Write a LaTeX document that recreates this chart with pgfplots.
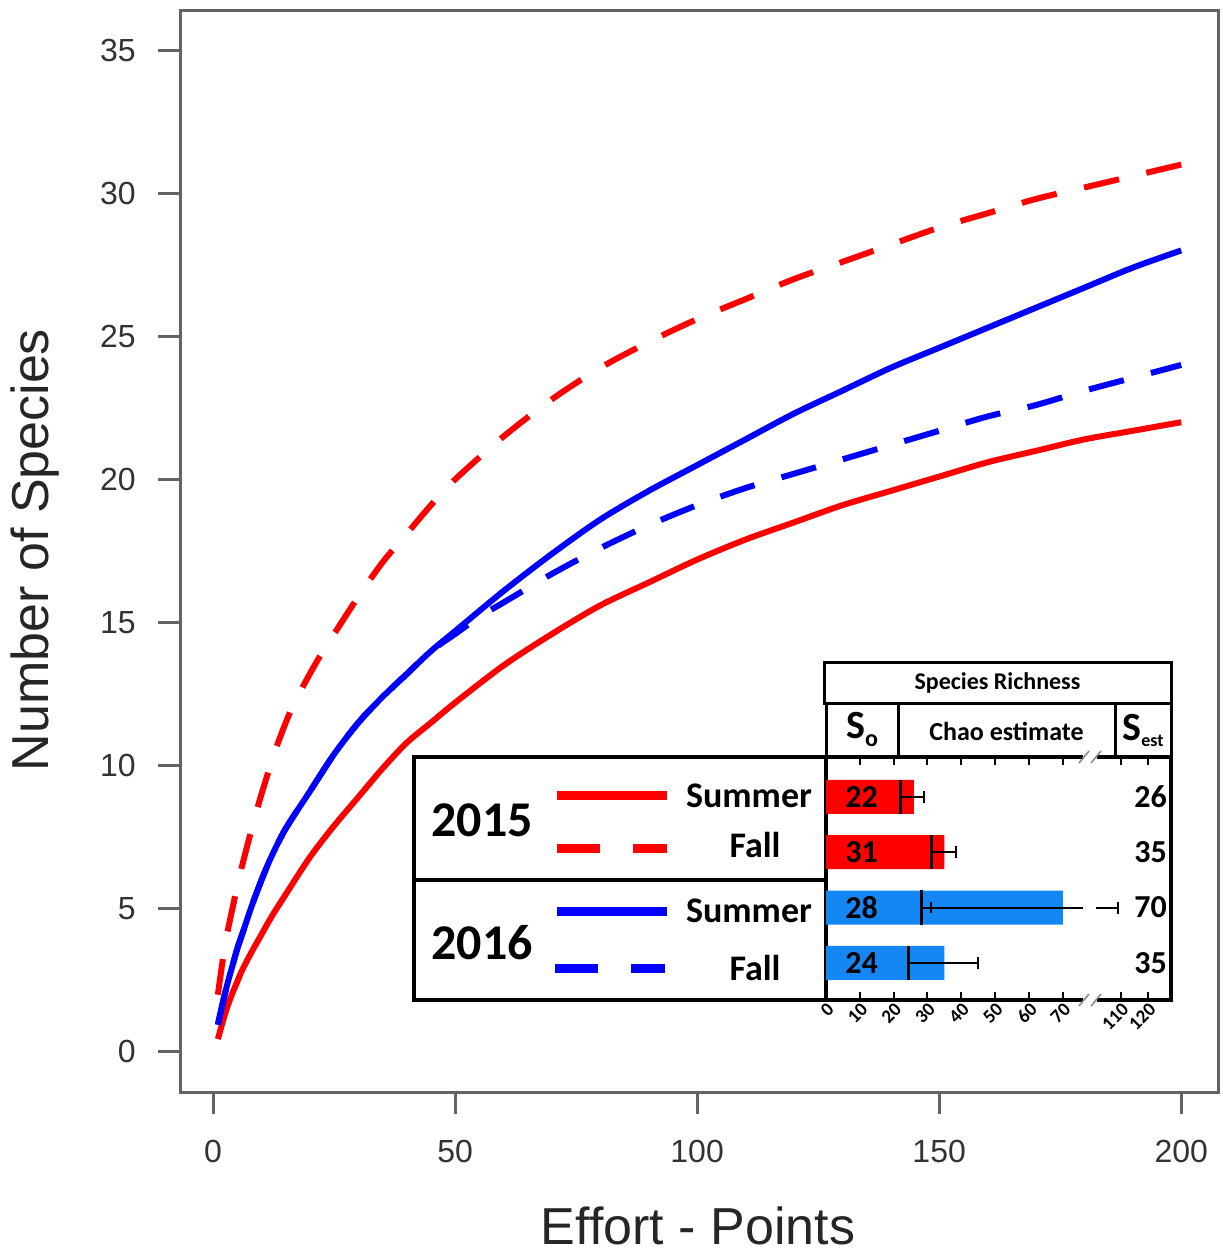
\documentclass[border=0pt]{standalone}
\usepackage{pgfplots}
\pgfplotsset{compat=1.18}
\usepackage{fontspec}
\setmainfont{Liberation Sans}
\newfontfamily\carl{Carlito}
\usetikzlibrary{arrows.meta}
\definecolor{cred}{RGB}{255,0,0}
\definecolor{cblue}{RGB}{0,0,255}
\definecolor{bblue}{RGB}{20,135,245}
\definecolor{axgray}{RGB}{100,100,100}
\begin{document}
\begin{tikzpicture}
\useasboundingbox (0,0) rectangle (611pt,-626.5pt);
\begin{axis}[
  at={(90pt,-546pt)}, anchor=south west,
  scale only axis, width=519pt, height=541pt,
  xmin=-6.82, xmax=207.6, ymin=-1.4, ymax=36.4,
  xtick={0,50,100,150,200}, ytick={0,5,...,35},
  axis line style={axgray, line width=1.5pt},
  tick style={axgray, line width=1.5pt},
  tick align=outside, major tick length=11pt,
  xtick pos=bottom, ytick pos=left,
  /pgf/number format/assume math mode=true,
  ticklabel style={font=\fontsize{16}{16}\selectfont, text=black!80},
  yticklabel style={inner sep=0pt, xshift=-11pt},
  xticklabel style={inner sep=0pt, yshift=-13pt},
]
\addplot[cred, line width=3pt, smooth, tension=0.5] coordinates {
(1,0.45) (2,1.05) (3,1.6) (4,2.05) (5,2.45) (6,2.85) (8,3.5) (10,4.1) (12,4.7) (15,5.5) (20,6.8) (25,7.9) (30,8.9) (35,9.9) (40,10.8) (45,11.5) (50,12.2) (60,13.5) (70,14.6) (80,15.6) (90,16.4) (100,17.2) (110,17.9) (120,18.5) (130,19.1) (140,19.6) (150,20.1) (160,20.6) (170,21.0) (180,21.4) (190,21.7) (200,22.0)};
\addplot[cred, line width=3pt, smooth, tension=0.5, dash pattern=on 18pt off 14pt] coordinates {
(1,2.0) (2,3.2) (3,4.2) (4,5.0) (5,5.8) (6,6.5) (8,7.8) (10,9.0) (13,10.6) (16,11.9) (19,12.9) (22,13.8) (25,14.6) (30,15.9) (35,17.1) (40,18.1) (45,19.1) (50,20.0) (60,21.5) (70,22.8) (80,23.9) (90,24.8) (100,25.6) (110,26.3) (120,27.0) (130,27.6) (140,28.2) (150,28.8) (160,29.3) (170,29.8) (180,30.2) (190,30.6) (200,31.0)};
\addplot[cblue, line width=3pt, smooth, tension=0.5] coordinates {
(1,0.95) (2,1.7) (3,2.4) (4,3.0) (5,3.6) (6,4.1) (8,5.1) (10,6.0) (12,6.8) (15,7.8) (20,9.1) (25,10.4) (30,11.5) (35,12.4) (40,13.2) (45,14.0) (50,14.7) (60,16.1) (70,17.4) (80,18.6) (90,19.6) (100,20.5) (110,21.4) (120,22.3) (130,23.1) (140,23.9) (150,24.6) (160,25.3) (170,26.0) (180,26.7) (190,27.4) (200,28.0)};
\addplot[cblue, line width=3pt, smooth, tension=0.5, dash pattern=on 18pt off 14pt] coordinates {
(1,0.95) (2,1.7) (3,2.4) (4,3.0) (5,3.6) (6,4.1) (8,5.1) (10,6.0) (12,6.8) (15,7.8) (20,9.1) (25,10.4) (30,11.5) (35,12.4) (40,13.2) (45,14.0) (50,14.6) (55,15.2) (60,15.7) (70,16.7) (80,17.6) (90,18.4) (100,19.1) (110,19.7) (120,20.2) (130,20.7) (140,21.2) (150,21.7) (160,22.2) (170,22.6) (180,23.1) (190,23.55) (200,24.0)};
\end{axis}
% axis titles
\node[rotate=90, font=\fontsize{26}{26}\selectfont, text=black!85] at (17.5pt,-275pt) {Number of Species};
\node[font=\fontsize{26}{26}\selectfont, text=black!85] at (349pt,-613pt) {Effort - Points};
% inset backgrounds
\fill[white] (207pt,-378.5pt) rectangle (585.5pt,-500pt);
\fill[white] (412pt,-331pt) rectangle (585.5pt,-378.5pt);
% header
\draw[line width=1.5pt] (412pt,-331pt) rectangle (585.5pt,-351.5pt);
\foreach \xx in {413,449,557.5,585.5} \draw[line width=1.5pt] (\xx pt,-351.5pt) -- (\xx pt,-378.5pt);
\node[font=\carl\bfseries\fontsize{12}{12}\selectfont] at (498.75pt,-341.5pt) {Species Richness};
\node[font=\carl\bfseries\fontsize{13}{13}\selectfont] at (503.25pt,-365.5pt) {Chao estimate};
\node[font=\carl\bfseries\fontsize{20}{20}\selectfont] at (431pt,-364.5pt) {S\raisebox{-0.2em}{\fontsize{12}{12}\selectfont o}};
\node[font=\carl\bfseries\fontsize{20}{20}\selectfont, inner sep=0pt] at (571.5pt,-365pt) {S\raisebox{-0.15em}{\fontsize{9}{9}\selectfont est}};
% legend box
\draw[line width=2pt] (207pt,-378.5pt) rectangle (413pt,-500pt);
\draw[line width=2pt] (207pt,-440pt) -- (413pt,-440pt);
\node[font=\carl\bfseries\fontsize{25}{25}\selectfont] at (241pt,-410pt) {2015};
\node[font=\carl\bfseries\fontsize{25}{25}\selectfont] at (241pt,-471.5pt) {2016};
\draw[cred, line width=4.5pt] (278.5pt,-397.5pt) -- (333.5pt,-397.5pt);
\draw[cred, line width=4.5pt, dash pattern=on 21.5pt off 16.5pt] (278.5pt,-424pt) -- (333.5pt,-424pt);
\draw[cblue, line width=4.5pt] (278.5pt,-455.5pt) -- (333.5pt,-455.5pt);
\draw[cblue, line width=4.5pt, dash pattern=on 21.5pt off 16.5pt] (277.5pt,-484pt) -- (332.5pt,-484pt);
\node[font=\carl\bfseries\fontsize{18}{18}\selectfont, anchor=east] at (409.5pt,-398pt) {Summer};
\node[font=\carl\bfseries\fontsize{18}{18}\selectfont] at (377.5pt,-422.5pt) {Fall};
\node[font=\carl\bfseries\fontsize{18}{18}\selectfont, anchor=east] at (409.5pt,-455.5pt) {Summer};
\node[font=\carl\bfseries\fontsize{18}{18}\selectfont] at (377.5pt,-484pt) {Fall};
% bar axis
\begin{axis}[
  at={(413pt,-500pt)}, anchor=south west,
  scale only axis, width=172.5pt, height=121.5pt,
  xmin=0, xmax=102, ymin=0.33, ymax=4.72,
  axis line style={line width=1.75pt},
  ytick=\empty,
  xtick={0,10,20,30,40,50,60,70,87.2,95.2},
  xticklabels={0,10,20,30,40,50,60,70,110,120},
  tick align=inside, major tick length=4pt,
  tick style={black, line width=1pt},
  xticklabel style={rotate=45, anchor=north east, inner sep=0.5pt, font=\carl\bfseries\fontsize{9.5}{9.5}\selectfont},
  clip=false,
]
\addplot[xbar, bar shift=0pt, bar width=0.615, fill=cred, draw=none] coordinates {(26,4) (35,3)};
\addplot[xbar, bar shift=0pt, bar width=0.615, fill=bblue, draw=none] coordinates {(70,2) (35,1)};
\addplot[black, line width=1.5pt] coordinates {(22,3.69) (22,4.31)};
\addplot[black, line width=1.5pt] coordinates {(31.1,2.69) (31.1,3.31)};
\addplot[black, line width=1.5pt] coordinates {(28.2,1.69) (28.2,2.31)};
\addplot[black, line width=1.5pt] coordinates {(24.4,0.69) (24.4,1.31)};
\addplot[black, line width=1pt, -{Bar[width=6pt]}] coordinates {(22,4) (29.2,4)};
\addplot[black, line width=1pt, -{Bar[width=6pt]}] coordinates {(31.1,3) (38.8,3)};
\addplot[black, line width=1pt] coordinates {(28.2,2) (75.9,2)};
\addplot[black, line width=1pt] coordinates {(31.1,1.9) (31.1,2.1)};
\addplot[black, line width=1pt, -{Bar[width=6pt]}] coordinates {(79.8,2) (86.5,2)};
\addplot[black, line width=1pt, -{Bar[width=6pt]}] coordinates {(24.4,1) (45.1,1)};
\node[font=\carl\bfseries\fontsize{16}{16}\selectfont] at (axis cs:10.5,4) {22};
\node[font=\carl\bfseries\fontsize{16}{16}\selectfont] at (axis cs:10.5,3) {31};
\node[font=\carl\bfseries\fontsize{16}{16}\selectfont] at (axis cs:10.5,2) {28};
\node[font=\carl\bfseries\fontsize{16}{16}\selectfont] at (axis cs:10.5,1) {24};
\node[font=\carl\bfseries\fontsize{16}{16}\selectfont] at (axis cs:96,4) {26};
\node[font=\carl\bfseries\fontsize{16}{16}\selectfont] at (axis cs:96,3) {35};
\node[font=\carl\bfseries\fontsize{16}{16}\selectfont] at (axis cs:96,2) {70};
\node[font=\carl\bfseries\fontsize{16}{16}\selectfont] at (axis cs:96,1) {35};
\end{axis}
% axis breaks
\foreach \yy in {-500,-378.5} {
  \fill[white] (541.5pt,\yy pt-2pt) rectangle (548.5pt,\yy pt+2pt);
  \draw[black!45, line width=0.8pt] (539.5pt,\yy pt-3pt) -- (544.5pt,\yy pt+3pt);
  \draw[black!45, line width=0.8pt] (545.5pt,\yy pt-3pt) -- (550.5pt,\yy pt+3pt);
}
\end{tikzpicture}
\end{document}
